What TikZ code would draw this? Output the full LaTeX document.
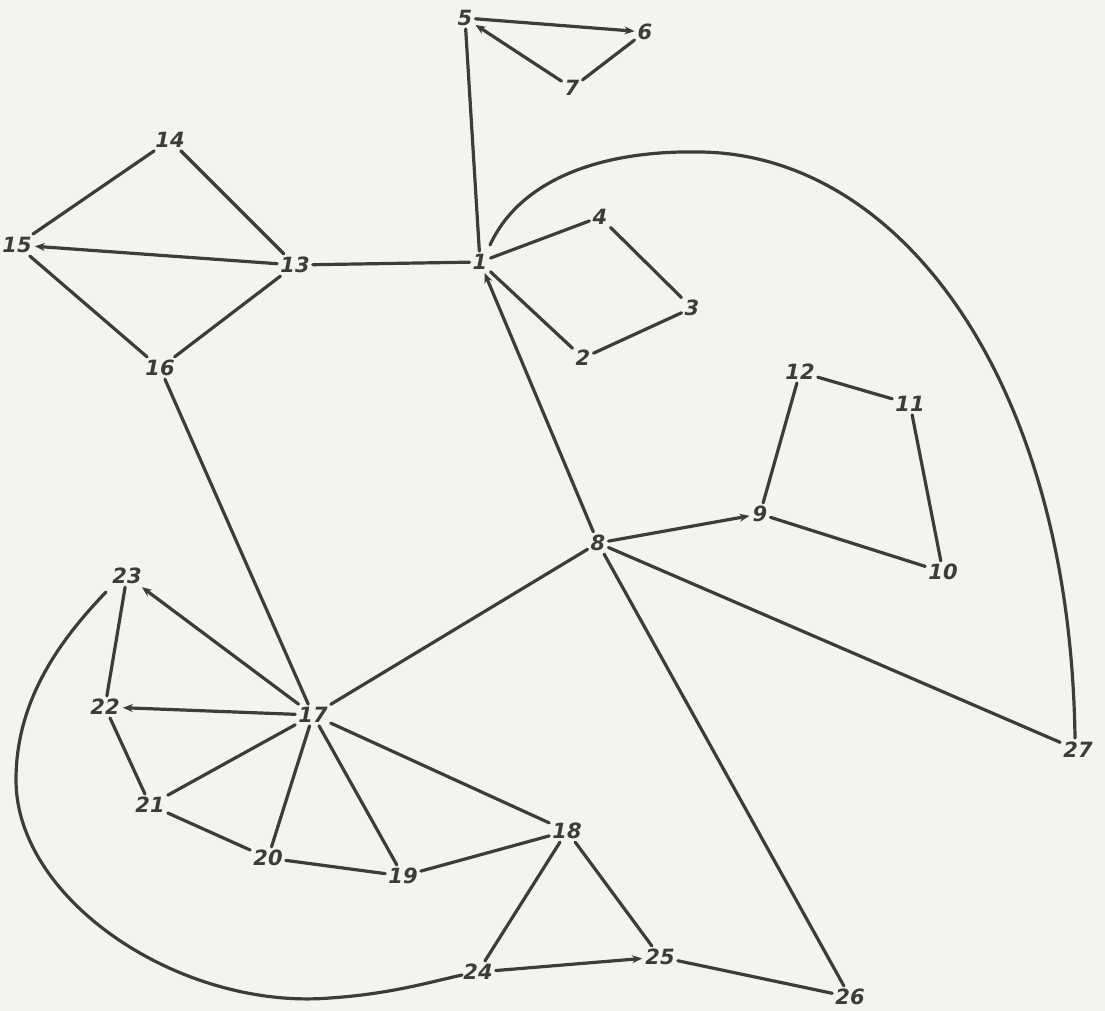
\documentclass[tikz,border=0pt]{standalone}
\usepackage{fontspec}
\setmainfont{DejaVu Sans}
\usetikzlibrary{arrows.meta}
\definecolor{paper}{RGB}{245,243,237}
\definecolor{ink}{RGB}{62,60,58}
\begin{document}
\begin{tikzpicture}[x=1pt,y=-1pt,
  vtx/.style={inner sep=3pt, font=\fontsize{21}{23}\selectfont\bfseries\itshape, text=ink},
  edge/.style={draw=ink, line width=3.2pt, line cap=round},
  arr/.style={edge, -{Stealth[length=10pt,width=8pt]}}]
\fill[paper] (0,0) rectangle (1105,1011);
\useasboundingbox (0,0) rectangle (1105,1011);
\node[vtx] (n1) at (480,262) {1};
\node[vtx] (n2) at (583,358) {2};
\node[vtx] (n3) at (692,308) {3};
\node[vtx] (n4) at (600,217) {4};
\node[vtx] (n5) at (465,18) {5};
\node[vtx] (n6) at (645,32) {6};
\node[vtx] (n7) at (572,88) {7};
\node[vtx] (n8) at (598,543) {8};
\node[vtx] (n9) at (760,514) {9};
\node[vtx] (n10) at (943,572) {10};
\node[vtx] (n11) at (910,404) {11};
\node[vtx] (n12) at (800,372) {12};
\node[vtx] (n13) at (295,265) {13};
\node[vtx] (n14) at (170,140) {14};
\node[vtx] (n15) at (17,245) {15};
\node[vtx] (n16) at (160,368) {16};
\node[vtx] (n17) at (313,715) {17};
\node[vtx] (n18) at (567,831) {18};
\node[vtx] (n19) at (403,876) {19};
\node[vtx] (n20) at (268,858) {20};
\node[vtx] (n21) at (150,805) {21};
\node[vtx] (n22) at (105,707) {22};
\node[vtx] (n23) at (127,576) {23};
\node[vtx] (n24) at (478,972) {24};
\node[vtx] (n25) at (660,957) {25};
\node[vtx] (n26) at (850,997) {26};
\node[vtx] (n27) at (1078,750) {27};
\coordinate (c1) at (490,245);
\coordinate (c27) at (1075,738);
\coordinate (c23) at (106,592);
\coordinate (c24) at (462,975);
% top triangle
\draw[arr] (n5) -- (n6);
\draw[edge] (n6) -- (n7);
\draw[arr] (n7) -- (n5);
\draw[edge] (n5) -- (n1);
% square 1-4-3-2
\draw[edge] (n1) -- (n4);
\draw[edge] (n4) -- (n3);
\draw[edge] (n3) -- (n2);
\draw[edge] (n2) -- (n1);
% left diamond
\draw[edge] (n1) -- (n13);
\draw[edge] (n13) -- (n14);
\draw[edge] (n14) -- (n15);
\draw[arr] (n13) -- (n15);
\draw[edge] (n15) -- (n16);
\draw[edge] (n16) -- (n13);
\draw[edge] (n16) -- (n17);
% center
\draw[arr] (n8) -- (n1);
\draw[arr] (n8) -- (n9);
\draw[edge] (n9) -- (n12);
\draw[edge] (n12) -- (n11);
\draw[edge] (n11) -- (n10);
\draw[edge] (n10) -- (n9);
\draw[edge] (n8) -- (n27);
\draw[edge] (n8) -- (n26);
\draw[edge] (n8) -- (n17);
% lower left fan
\draw[arr] (n17) -- (n23);
\draw[edge] (n23) -- (n22);
\draw[arr] (n17) -- (n22);
\draw[edge] (n22) -- (n21);
\draw[edge] (n17) -- (n21);
\draw[edge] (n21) -- (n20);
\draw[edge] (n17) -- (n20);
\draw[edge] (n20) -- (n19);
\draw[edge] (n17) -- (n19);
\draw[edge] (n17) -- (n18);
\draw[edge] (n19) -- (n18);
\draw[edge] (n18) -- (n24);
\draw[edge] (n18) -- (n25);
\draw[arr] (n24) -- (n25);
\draw[edge] (n25) -- (n26);
% curves
\draw[edge] (c1) .. controls (520,180) and (600,150) .. (700,152)
  .. controls (900,154) and (1070,380) .. (c27);
\draw[edge] (c23) .. controls (60,640) and (16,700) .. (16,780)
  .. controls (16,900) and (180,1010) .. (330,998)
  .. controls (390,994) and (430,982) .. (c24);
\end{tikzpicture}
\end{document}
